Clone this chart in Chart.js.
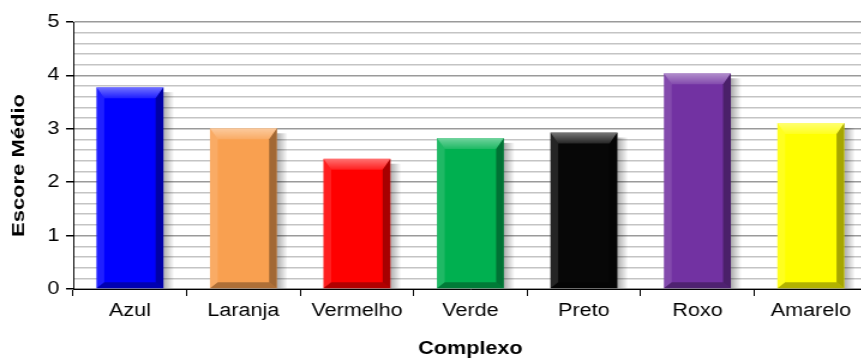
<!DOCTYPE html>
<html>
<head>
<meta charset="utf-8">
<script src="https://cdn.jsdelivr.net/npm/chart.js@4"></script>
<style>
  html, body { margin: 0; padding: 0; background: #fff; overflow: hidden; }
  #wrap { width: 723px; height: 360px; transform: scaleX(1.2); transform-origin: 0 0; }
</style>
</head>
<body>
<div id="wrap"><canvas id="chart" width="723" height="360"></canvas></div>
<script>
const categories = ['Azul', 'Laranja', 'Vermelho', 'Verde', 'Preto', 'Roxo', 'Amarelo'];
const scores = [3.78, 3.01, 2.44, 2.83, 2.93, 4.04, 3.11];
const barColors = ['#0000FF', '#F9A050', '#FF0000', '#00B050', '#070707', '#7232A2', '#FFFF00'];
const yTicks = [0, 1, 2, 3, 4, 5];
const yTitle = 'Escore Médio';
const xTitle = 'Complexo';

const fontFamily = '"Liberation Sans", Arial, sans-serif';
const isMajor = (v) => Math.abs(v - Math.round(v)) < 1e-6;

// soft shadow to the right of each bar, drawn under the bars
const shadowPlugin = {
  id: 'barShadow',
  beforeDatasetsDraw(chart) {
    const ctx = chart.ctx;
    const meta = chart.getDatasetMeta(0);
    ctx.save();
    meta.data.forEach((bar) => {
      const right = bar.x + bar.width / 2;
      const g = ctx.createLinearGradient(right, 0, right + 9, 0);
      g.addColorStop(0, 'rgba(0,0,0,0.32)');
      g.addColorStop(1, 'rgba(0,0,0,0)');
      ctx.fillStyle = g;
      ctx.fillRect(right, bar.y + 5, 9, bar.base - bar.y - 5);
    });
    ctx.restore();
  },
};

// beveled edges on top of each bar
const bevelPlugin = {
  id: 'bevel',
  afterDatasetsDraw(chart) {
    const ctx = chart.ctx;
    const meta = chart.getDatasetMeta(0);
    ctx.save();
    meta.data.forEach((bar) => {
      const x0 = bar.x - bar.width / 2;
      const x1 = bar.x + bar.width / 2;
      const y0 = bar.y;
      const yb = bar.base;
      const bs = 6.5;
      const bt = 11;
      const bb = 6;
      const poly = (pts, fill) => {
        ctx.beginPath();
        ctx.moveTo(pts[0][0], pts[0][1]);
        pts.slice(1).forEach((p) => ctx.lineTo(p[0], p[1]));
        ctx.closePath();
        ctx.fillStyle = fill;
        ctx.fill();
      };
      const top = ctx.createLinearGradient(0, y0, 0, y0 + bt);
      top.addColorStop(0, 'rgba(255,255,255,0.45)');
      top.addColorStop(1, 'rgba(255,255,255,0.12)');
      poly([[x0, y0], [x1, y0], [x1 - bs, y0 + bt], [x0 + bs, y0 + bt]], top);
      poly([[x0, y0], [x0 + bs, y0 + bt], [x0 + bs, yb - bb], [x0, yb]], 'rgba(255,255,255,0.12)');
      poly([[x1, y0], [x1 - bs, y0 + bt], [x1 - bs, yb - bb], [x1, yb]], 'rgba(0,0,0,0.35)');
      poly([[x0, yb], [x0 + bs, yb - bb], [x1 - bs, yb - bb], [x1, yb]], 'rgba(0,0,0,0.3)');
    });
    ctx.restore();
  },
};

// y axis title, drawn narrow like the original (canvas is stretched sideways)
const yTitlePlugin = {
  id: 'yTitle',
  afterDraw(chart) {
    const ctx = chart.ctx;
    const area = chart.chartArea;
    ctx.save();
    ctx.translate(16.3, (area.top + area.bottom) / 2 + 10);
    ctx.rotate(-Math.PI / 2);
    ctx.scale(1, 0.68);
    ctx.font = `bold 22px ${fontFamily}`;
    ctx.fillStyle = '#000';
    ctx.textAlign = 'center';
    ctx.textBaseline = 'middle';
    ctx.fillText(yTitle, 0, 0);
    ctx.restore();
  },
};

new Chart(document.getElementById('chart'), {
  type: 'bar',
  data: {
    labels: categories,
    datasets: [{
      data: scores,
      backgroundColor: barColors,
      borderWidth: 0,
      barPercentage: 0.59,
      categoryPercentage: 1,
    }],
  },
  options: {
    responsive: false,
    animation: false,
    layout: { padding: { top: 22, right: 0, left: 0, bottom: 0 } },
    plugins: { legend: { display: false }, tooltip: { enabled: false } },
    scales: {
      x: {
        afterFit: (axis) => { axis.height = 71; },
        grid: { drawOnChartArea: false, offset: true, color: '#000', tickLength: 7 },
        border: { color: '#000', width: 1 },
        ticks: { color: '#000', padding: 4, font: { family: fontFamily, size: 18 } },
        title: {
          display: true,
          text: xTitle,
          color: '#000',
          padding: { top: 0, bottom: 0 },
          font: { family: fontFamily, size: 18, weight: 'bold' },
        },
      },
      y: {
        min: yTicks[0],
        max: yTicks[yTicks.length - 1],
        afterFit: (axis) => { axis.width = 61; },
        grid: {
          color: (c) => (isMajor(c.tick.value) ? '#9a9a9a' : '#c4c4c4'),
          lineWidth: 1.5,
          tickColor: (c) => (isMajor(c.tick.value) ? '#000' : 'rgba(0,0,0,0)'),
          tickLength: 6,
        },
        border: { color: '#000', width: 1 },
        ticks: {
          stepSize: 0.2,
          autoSkip: false,
          color: '#000',
          padding: 5.5,
          font: { family: fontFamily, size: 18 },
          callback: (v) => (isMajor(v) ? Math.round(v) : ''),
        },
      },
    },
  },
  plugins: [shadowPlugin, bevelPlugin, yTitlePlugin],
});
</script>
</body>
</html>
